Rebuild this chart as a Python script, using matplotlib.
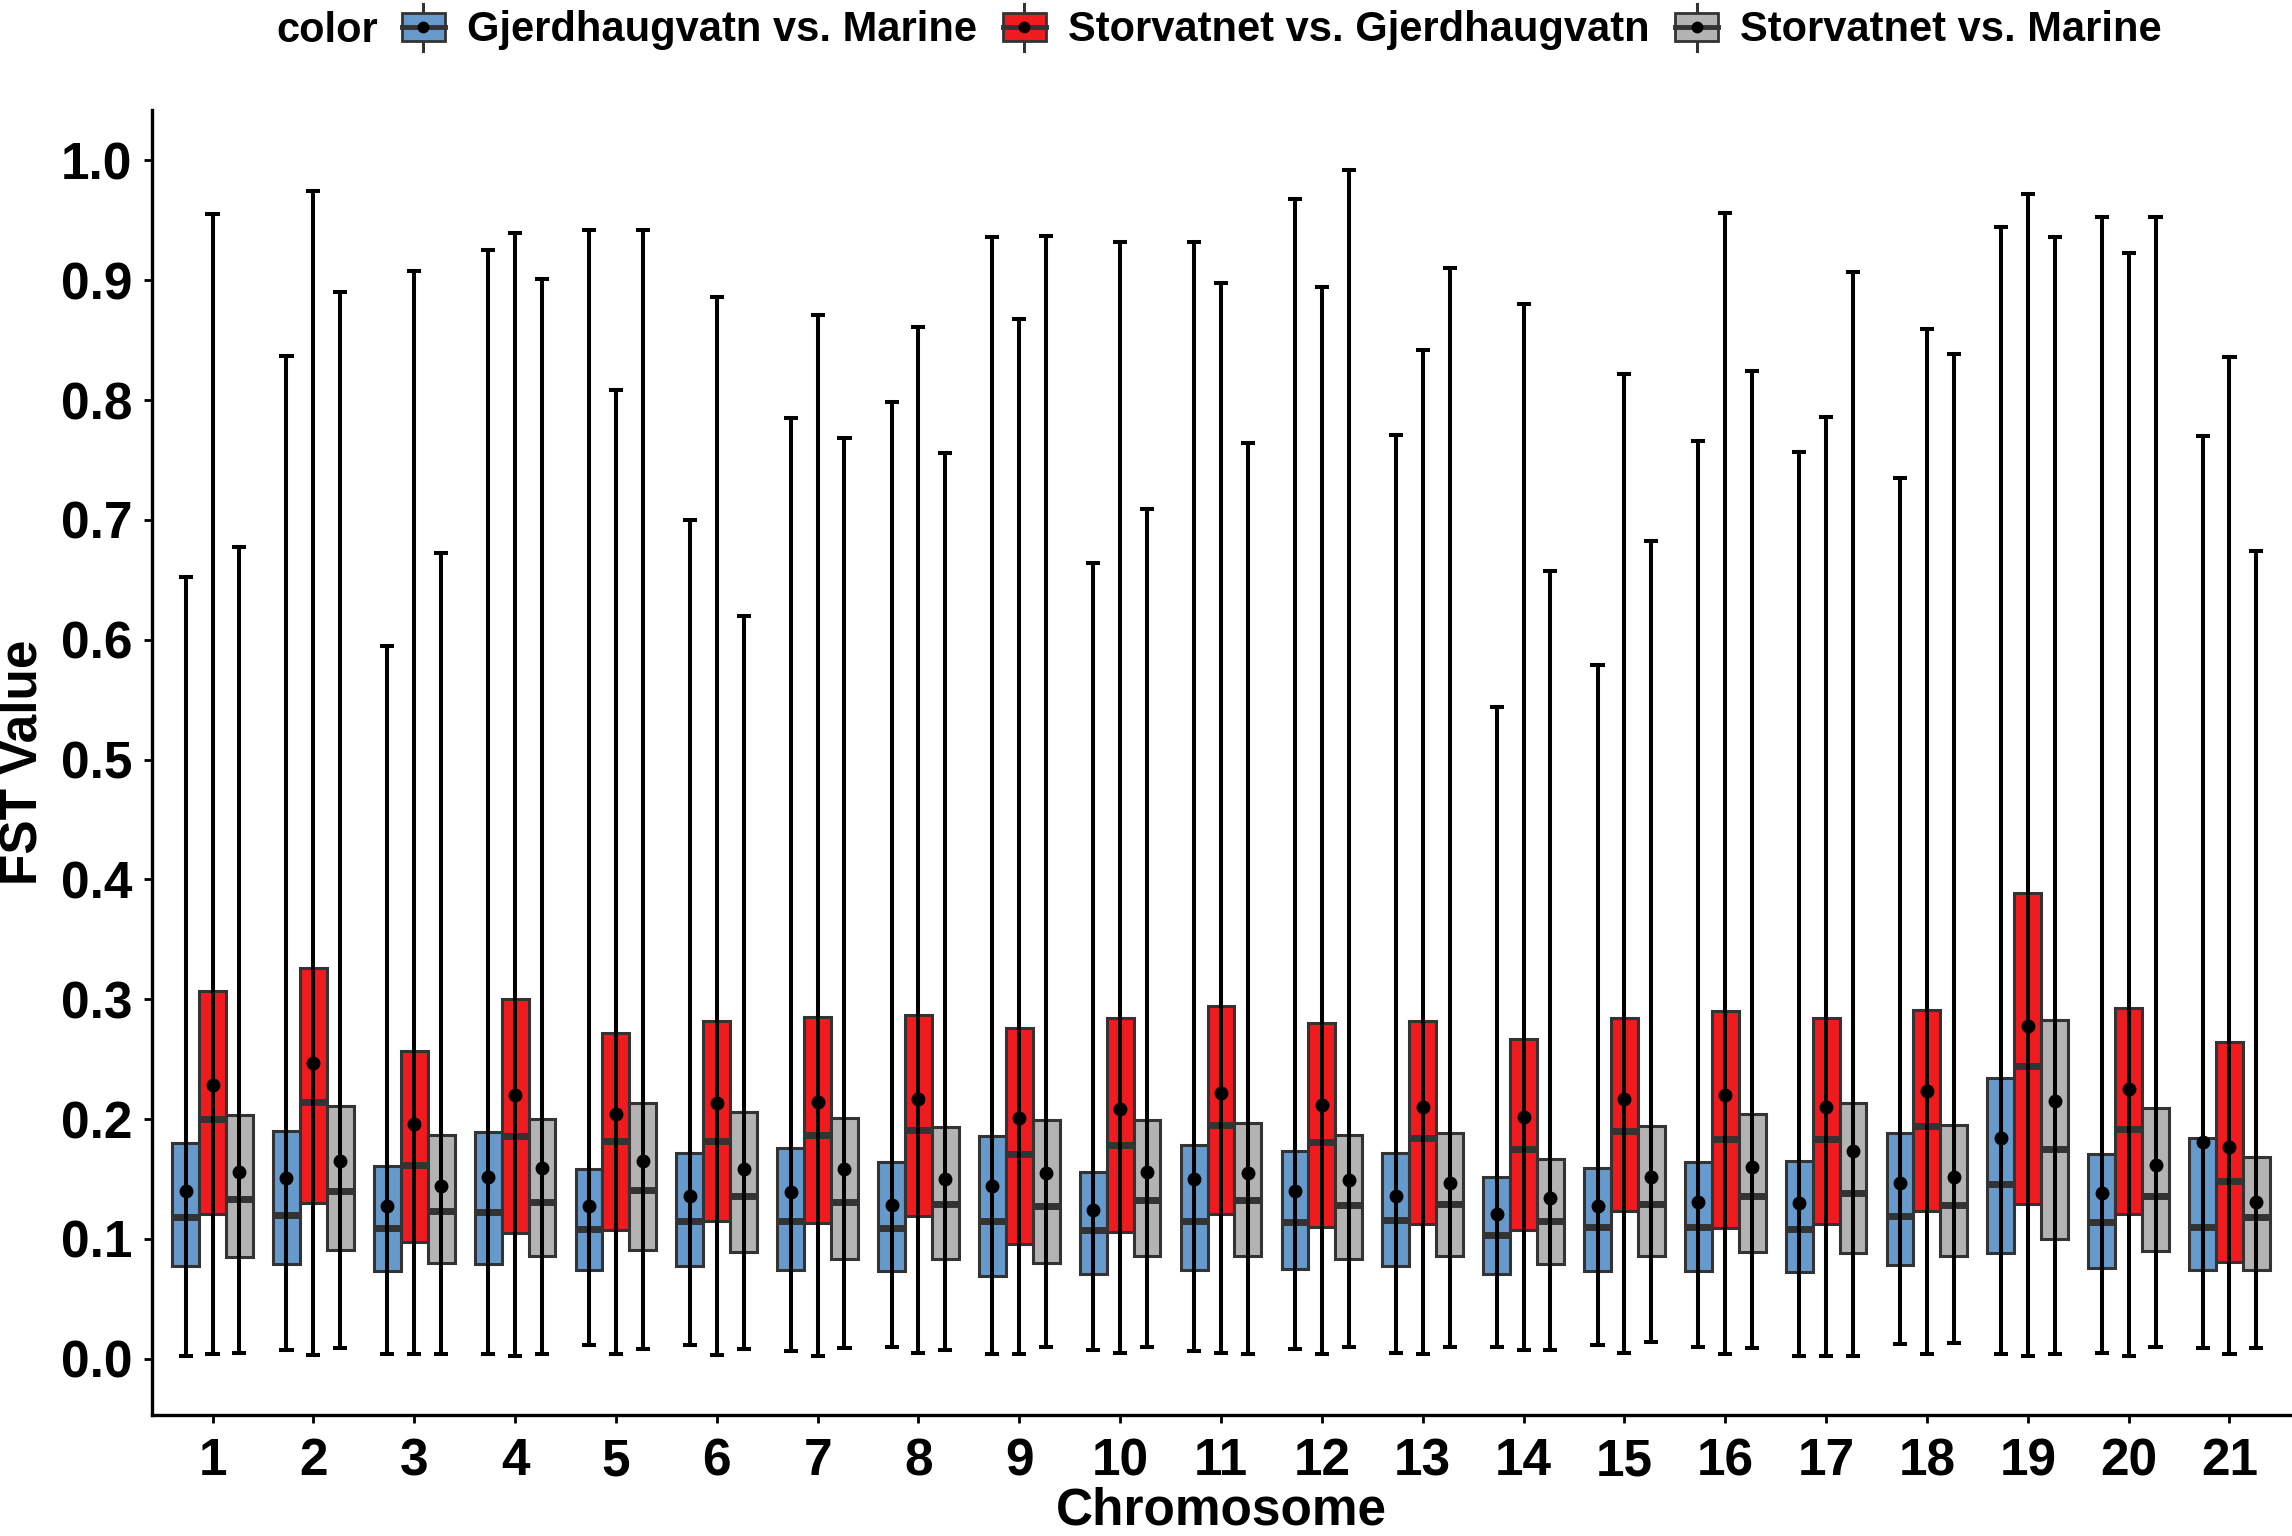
"""FST values per chromosome for three population comparisons."""

import numpy as np
import matplotlib
matplotlib.use("Agg")
import matplotlib.pyplot as plt
from matplotlib.patches import Rectangle
from matplotlib.lines import Line2D

plt.rcParams["font.family"] = ["Liberation Sans", "DejaVu Sans"]
plt.rcParams["font.weight"] = "bold"

chromosomes = [str(i) for i in range(1, 22)]
series_names = ["Gjerdhaugvatn vs. Marine", "Storvatnet vs. Gjerdhaugvatn", "Storvatnet vs. Marine"]
series_colors = ["#6699CC", "#F01B1E", "#B3B3B3"]

# Gjerdhaugvatn vs. Marine
gm_q1 = [0.077, 0.079, 0.073, 0.079, 0.074, 0.077, 0.074, 0.073, 0.069, 0.071, 0.074,
         0.075, 0.077, 0.071, 0.073, 0.073, 0.072, 0.078, 0.088, 0.076, 0.074]
gm_med = [0.118, 0.120, 0.109, 0.122, 0.108, 0.115, 0.115, 0.109, 0.115, 0.107, 0.115,
          0.114, 0.116, 0.103, 0.110, 0.110, 0.108, 0.119, 0.146, 0.114, 0.110]
gm_q3 = [0.180, 0.190, 0.161, 0.189, 0.158, 0.172, 0.176, 0.164, 0.186, 0.156, 0.178,
         0.173, 0.172, 0.152, 0.159, 0.164, 0.165, 0.188, 0.234, 0.171, 0.184]
gm_mean = [0.140, 0.151, 0.127, 0.152, 0.127, 0.136, 0.139, 0.128, 0.144, 0.124, 0.150,
           0.140, 0.136, 0.121, 0.127, 0.131, 0.130, 0.147, 0.184, 0.138, 0.181]
gm_lo = [0.002, 0.007, 0.004, 0.004, 0.011, 0.011, 0.006, 0.010, 0.004, 0.007, 0.006,
         0.008, 0.005, 0.010, 0.011, 0.010, 0.002, 0.012, 0.004, 0.005, 0.009]
gm_hi = [0.652, 0.837, 0.595, 0.925, 0.942, 0.700, 0.785, 0.798, 0.936, 0.664, 0.932,
         0.968, 0.771, 0.544, 0.579, 0.766, 0.757, 0.735, 0.944, 0.953, 0.770]

# Storvatnet vs. Gjerdhaugvatn
sg_q1 = [0.121, 0.130, 0.097, 0.105, 0.107, 0.115, 0.113, 0.119, 0.096, 0.106, 0.121,
         0.110, 0.112, 0.107, 0.123, 0.109, 0.112, 0.123, 0.129, 0.121, 0.081]
sg_med = [0.200, 0.214, 0.162, 0.186, 0.182, 0.182, 0.187, 0.191, 0.171, 0.178, 0.195,
          0.181, 0.184, 0.175, 0.190, 0.183, 0.183, 0.194, 0.244, 0.192, 0.148]
sg_q3 = [0.307, 0.326, 0.257, 0.300, 0.272, 0.282, 0.285, 0.287, 0.276, 0.284, 0.294,
         0.280, 0.282, 0.267, 0.284, 0.290, 0.284, 0.291, 0.389, 0.293, 0.264]
sg_mean = [0.228, 0.247, 0.196, 0.220, 0.204, 0.213, 0.214, 0.217, 0.201, 0.208, 0.222,
           0.212, 0.210, 0.202, 0.217, 0.220, 0.210, 0.223, 0.278, 0.225, 0.177]
sg_lo = [0.004, 0.003, 0.004, 0.002, 0.004, 0.003, 0.002, 0.005, 0.004, 0.005, 0.005,
         0.004, 0.004, 0.007, 0.005, 0.004, 0.002, 0.004, 0.002, 0.002, 0.004]
sg_hi = [0.955, 0.974, 0.908, 0.939, 0.808, 0.886, 0.871, 0.861, 0.868, 0.932, 0.898,
         0.894, 0.842, 0.880, 0.822, 0.956, 0.786, 0.859, 0.972, 0.923, 0.836]

# Storvatnet vs. Marine
sm_q1 = [0.085, 0.091, 0.080, 0.086, 0.091, 0.089, 0.083, 0.083, 0.080, 0.086, 0.086,
         0.083, 0.086, 0.079, 0.086, 0.089, 0.088, 0.086, 0.100, 0.090, 0.074]
sm_med = [0.133, 0.140, 0.123, 0.131, 0.141, 0.136, 0.131, 0.129, 0.127, 0.132, 0.132,
          0.128, 0.129, 0.115, 0.129, 0.136, 0.138, 0.128, 0.175, 0.136, 0.118]
sm_q3 = [0.203, 0.211, 0.187, 0.200, 0.213, 0.206, 0.201, 0.193, 0.199, 0.199, 0.197,
         0.187, 0.188, 0.167, 0.194, 0.204, 0.213, 0.195, 0.283, 0.209, 0.168]
sm_mean = [0.156, 0.165, 0.144, 0.159, 0.165, 0.158, 0.158, 0.150, 0.155, 0.156, 0.155,
           0.149, 0.147, 0.134, 0.152, 0.160, 0.173, 0.152, 0.215, 0.162, 0.131]
sm_lo = [0.005, 0.009, 0.004, 0.004, 0.008, 0.008, 0.009, 0.007, 0.010, 0.010, 0.004,
         0.010, 0.010, 0.007, 0.014, 0.009, 0.002, 0.013, 0.004, 0.010, 0.009]
sm_hi = [0.677, 0.890, 0.672, 0.901, 0.942, 0.620, 0.768, 0.756, 0.937, 0.709, 0.764,
         0.992, 0.910, 0.657, 0.682, 0.824, 0.907, 0.838, 0.936, 0.953, 0.674]

series_stats = [
    (gm_q1, gm_med, gm_q3, gm_mean, gm_lo, gm_hi),
    (sg_q1, sg_med, sg_q3, sg_mean, sg_lo, sg_hi),
    (sm_q1, sm_med, sm_q3, sm_mean, sm_lo, sm_hi),
]

EDGE = "#333333"


class BoxKeyHandler:
    """Legend key drawn as a small boxplot glyph."""

    def __init__(self, color):
        self.color = color

    def legend_artist(self, legend, orig_handle, fontsize, handlebox):
        x0, y0 = handlebox.xdescent, handlebox.ydescent
        w, h = handlebox.width, handlebox.height
        cx = x0 + w / 2
        line = Line2D([cx, cx], [y0 - 0.33 * h, y0 + 1.33 * h], color=EDGE, lw=2.2)
        box = Rectangle((x0, y0), w, h, facecolor=self.color, edgecolor=EDGE, lw=2.0)
        med = Line2D([x0, x0 + w], [y0 + h / 2, y0 + h / 2], color=EDGE, lw=3.5)
        dot = Line2D([cx], [y0 + h / 2], marker="o", color="black", markersize=7.5)
        for a in (line, box, med, dot):
            handlebox.add_artist(a)
        return box


fig = plt.figure(figsize=(22.92, 15.36), dpi=100)
ax = fig.add_axes([152 / 2292, 121 / 1536, 2138 / 2292, 1305 / 1536])

x = np.arange(1, len(chromosomes) + 1)
box_w = 0.8 / 3
offsets = [-box_w, 0.0, box_w]

for (q1, med, q3, mean, lo, hi), color, off in zip(series_stats, series_colors, offsets):
    pos = x + off
    stats = [
        {"q1": a, "med": b, "q3": c, "mean": d, "whislo": e, "whishi": f, "fliers": []}
        for a, b, c, d, e, f in zip(q1, med, q3, mean, lo, hi)
    ]
    ax.bxp(
        stats, positions=pos, widths=box_w, patch_artist=True, showmeans=True,
        capwidths=0.1, manage_ticks=False,
        boxprops={"facecolor": color, "edgecolor": EDGE, "linewidth": 2.2, "zorder": 2},
        medianprops={"color": EDGE, "linewidth": 5.0, "zorder": 3},
        whiskerprops={"color": "black", "linewidth": 2.9},
        capprops={"color": "black", "linewidth": 2.9},
        meanprops={"marker": "o", "markerfacecolor": "black", "markeredgecolor": "black",
                   "markersize": 9, "zorder": 6},
    )
    # whisker line continues through the box
    ax.vlines(pos, q1, q3, color="black", linewidth=2.9, zorder=4)

ax.set_xlim(0.4, 21.6)
ax.set_ylim(-0.047, 1.042)
ax.set_xticks(x)
ax.set_xticklabels(chromosomes)
ax.set_yticks(np.arange(0, 1.01, 0.1))
ax.set_yticklabels([f"{v:.1f}" for v in np.arange(0, 1.01, 0.1)])
ax.tick_params(axis="both", labelsize=37, width=2, length=6, color="black")
ax.tick_params(axis="y", pad=8)
ax.tick_params(axis="x", pad=10)
for s in ("top", "right"):
    ax.spines[s].set_visible(False)
for s in ("left", "bottom"):
    ax.spines[s].set_linewidth(2.4)

ax.set_xlabel("Chromosome", fontsize=37, fontweight="bold", labelpad=0)
ax.set_ylabel("FST Value", fontsize=37, fontweight="bold", labelpad=10)

handles = [Rectangle((0, 0), 1, 1) for _ in series_names]
fig.text(378 / 2292, 1 - 31 / 1536, "color", fontsize=30, fontweight="bold",
         ha="right", va="center")
fig.legend(
    handles, series_names, loc="center left", bbox_to_anchor=(402 / 2292, 1 - 30 / 1536),
    ncol=3, frameon=False, fontsize=30, handlelength=1.03, handleheight=0.67,
    handletextpad=0.53, columnspacing=0.62, borderpad=0, borderaxespad=0,
    handler_map={h: BoxKeyHandler(c) for h, c in zip(handles, series_colors)},
)

fig.savefig("out.png", dpi=100)
plt.close(fig)
